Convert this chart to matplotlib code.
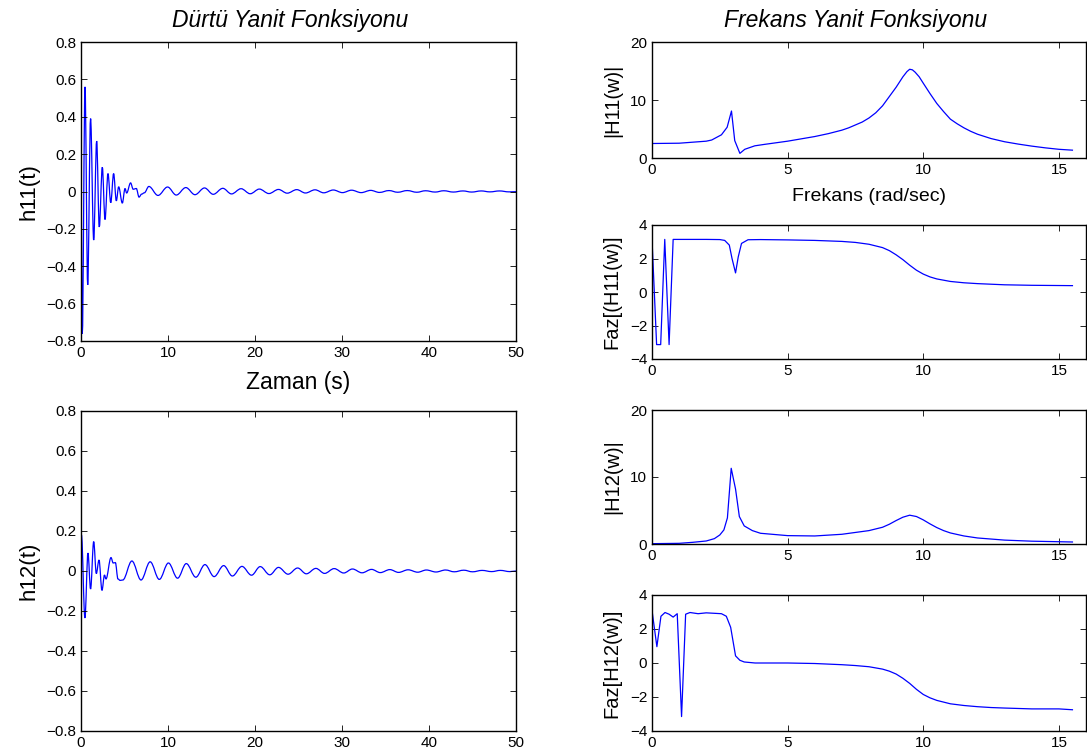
import matplotlib
matplotlib.use("Agg")
import matplotlib.pyplot as plt
from matplotlib.path import Path
from matplotlib.patches import PathPatch

plt.rcParams["font.family"] = ["Liberation Sans", "DejaVu Sans"]

# impulse response h11(t), values read at the extrema of the trace
t_h11 = [0.0, 0.15, 0.46, 0.77, 1.1, 1.46, 1.8, 2.1, 2.45, 2.76, 3.1, 3.42, 3.75,
         4.06, 4.33, 4.75, 5.06, 5.25, 5.7, 6.0, 6.36, 6.67, 6.97, 7.28, 7.8,
         8.85, 9.95, 10.95, 12.05, 13.1, 14.2, 15.2, 16.3, 17.3, 18.4, 19.45,
         20.5, 21.6, 22.7, 23.7, 24.8, 25.8, 26.9, 27.9, 29.0, 30.05, 31.1,
         32.2, 33.3, 34.3, 35.4, 36.4, 37.5, 38.6, 39.6, 40.7, 41.7, 42.8,
         43.9, 44.9, 46.0, 47.0, 48.1, 49.2, 50.0]
h11 = [0.0, -0.76, 0.56, -0.50, 0.39, -0.26, 0.27, -0.19, 0.13, -0.15, 0.096, -0.06, 0.096,
       -0.05, 0.025, -0.062, 0.016, -0.008, 0.046, 0.012, 0.016, -0.03, -0.014, -0.007, 0.027,
       -0.021, 0.024, -0.019, 0.021, -0.017, 0.019, -0.015, 0.017, -0.013, 0.015, -0.012,
       0.013, -0.011, 0.011, -0.009, 0.010, -0.008, 0.009, -0.007, 0.008, -0.006, 0.007,
       -0.006, 0.006, -0.005, 0.005, -0.004, 0.005, -0.004, 0.004, -0.003, 0.004, -0.003,
       0.003, -0.003, 0.003, -0.002, 0.003, -0.002, -0.001]

# impulse response h12(t)
t_h12 = [0.0, 0.05, 0.45, 0.8, 1.1, 1.46, 1.76, 2.07, 2.41, 2.7, 2.87, 3.45, 3.7, 3.95,
         4.25, 4.5, 4.8, 5.85, 6.9, 7.95, 9.0, 10.05, 11.1, 12.1, 13.2, 14.25, 15.3,
         16.4, 17.4, 18.5, 19.6, 20.6, 21.7, 22.7, 23.8, 24.9, 25.9, 27.0, 28.0, 29.1,
         30.2, 31.2, 32.3, 33.4, 34.4, 35.5, 36.5, 37.6, 38.7, 39.7, 40.8, 41.9, 42.9,
         44.0, 45.0, 46.1, 47.2, 48.2, 49.3, 50.0]
h12 = [0.17, 0.18, -0.235, 0.09, -0.09, 0.147, -0.013, 0.055, -0.097, -0.02, -0.04, 0.067, 0.04, 0.042,
       -0.04, -0.047, -0.045, 0.05, -0.045, 0.046, -0.042, 0.04, -0.036, 0.037, -0.031, 0.032, -0.028,
       0.027, -0.025, 0.023, -0.021, 0.022, -0.019, 0.018, -0.016, 0.015, -0.014, 0.013, -0.012, 0.012,
       -0.010, 0.010, -0.009, 0.008, -0.008, 0.007, -0.007, 0.006, -0.006, 0.005, -0.005, 0.005, -0.004,
       0.004, -0.004, 0.003, -0.003, 0.003, -0.003, 0.0]

# |H11(w)|
w_m11 = [0.0, 1.0, 2.0, 2.2, 2.56, 2.77, 2.93, 3.05, 3.24, 3.42, 3.79, 4.15, 5.0, 6.0,
         6.5, 7.0, 7.25, 7.5, 7.75, 8.0, 8.25, 8.5, 8.75, 9.0, 9.25, 9.4, 9.5, 9.6,
         9.7, 9.85, 10.0, 10.25, 10.5, 10.75, 11.0, 11.25, 11.5, 11.75, 12.0, 12.5,
         13.0, 13.5, 14.0, 14.5, 15.0, 15.5]
m11 = [2.5, 2.55, 2.9, 3.1, 4.0, 5.3, 8.1, 3.0, 0.8, 1.5, 2.1, 2.35, 2.9, 3.7,
       4.2, 4.8, 5.2, 5.7, 6.2, 6.9, 7.8, 9.0, 10.6, 12.2, 14.0, 14.9, 15.3, 15.2,
       14.8, 14.0, 12.9, 11.1, 9.4, 8.0, 6.7, 5.9, 5.2, 4.6, 4.1, 3.35,
       2.8, 2.4, 2.05, 1.75, 1.5, 1.35]

# Faz[H11(w)]
w_p11 = [0.0, 0.17, 0.32, 0.47, 0.63, 0.78, 1.5, 2.0, 2.5, 2.68, 2.85, 2.95, 3.08,
         3.18, 3.3, 3.54, 4.0, 5.0, 6.0, 7.0, 7.5, 8.0, 8.5, 8.75, 9.0, 9.25, 9.5,
         9.75, 10.0, 10.25, 10.5, 11.0, 11.5, 12.0, 13.0, 14.0, 15.5]
p11 = [3.14, -3.14, -3.14, 3.14, -3.14, 3.14, 3.14, 3.14, 3.13, 3.08, 2.8, 2.0, 1.14,
       2.1, 2.9, 3.12, 3.13, 3.11, 3.08, 3.02, 2.96, 2.85, 2.65, 2.47, 2.22, 1.93, 1.6,
       1.3, 1.07, 0.9, 0.78, 0.63, 0.55, 0.5, 0.43, 0.4, 0.38]

# |H12(w)|
w_m12 = [0.0, 1.0, 1.5, 2.0, 2.3, 2.5, 2.65, 2.78, 2.92, 3.08, 3.22, 3.4, 3.7, 4.0,
         5.0, 6.0, 7.0, 8.0, 8.5, 8.75, 9.0, 9.25, 9.5, 9.75, 10.0, 10.25, 10.5,
         10.75, 11.0, 11.5, 12.0, 13.0, 14.0, 15.5]
m12 = [0.05, 0.1, 0.25, 0.45, 0.8, 1.35, 2.1, 3.9, 11.3, 8.2, 4.1, 2.7, 2.0, 1.6,
       1.25, 1.2, 1.45, 2.0, 2.5, 2.95, 3.5, 4.0, 4.3, 4.1, 3.6, 3.0, 2.45,
       2.0, 1.65, 1.2, 0.9, 0.58, 0.42, 0.3]

# Faz[H12(w)]
w_p12 = [0.0, 0.18, 0.33, 0.48, 0.63, 0.78, 0.93, 1.09, 1.24, 1.4, 1.7, 2.0, 2.56,
         2.74, 2.9, 3.08, 3.24, 3.4, 3.8, 5.0, 6.0, 7.0, 7.5, 8.0, 8.5, 8.75, 9.0, 9.25,
         9.5, 9.75, 10.0, 10.25, 10.5, 11.0, 11.5, 12.0, 12.5, 13.0, 14.0, 15.0, 15.5]
p12 = [3.1, 0.96, 2.75, 2.97, 2.87, 2.7, 2.9, -3.15, 2.87, 2.97, 2.9, 2.95, 2.9,
       2.75, 2.1, 0.42, 0.16, 0.06, 0.0, 0.0, -0.03, -0.1, -0.15, -0.22, -0.36, -0.48, -0.65, -0.9,
       -1.2, -1.55, -1.85, -2.05, -2.2, -2.4, -2.5, -2.57, -2.62, -2.65, -2.7, -2.7, -2.75]

W, H = 1087, 756
fig = plt.figure(figsize=(W / 100, H / 100), dpi=100)
blue = "#0000ff"


def box(x0, y0, x1, y1):
    return fig.add_axes([x0 / W, 1 - y1 / H, (x1 - x0) / W, (y1 - y0) / H])


def style(ax):
    ax.tick_params(direction="in", top=True, right=True, labelsize=11, length=4, width=0.6)
    for s in ax.spines.values():
        s.set_linewidth(1.0)


def smooth_trace(ax, x, y):
    # cubic segments with flat ends at each read extremum (rounded peaks like the scope trace)
    verts = [(x[0], y[0])]
    codes = [Path.MOVETO]
    for i in range(1, len(x)):
        d = (x[i] - x[i - 1]) * 0.36
        verts += [(x[i - 1] + d, y[i - 1]), (x[i] - d, y[i]), (x[i], y[i])]
        codes += [Path.CURVE4] * 3
    ax.add_patch(PathPatch(Path(verts, codes), fill=False, edgecolor=blue, lw=0.9))


yt = [-0.8, -0.6, -0.4, -0.2, 0, 0.2, 0.4, 0.6, 0.8]
ytl = ["\u22120.8", "\u22120.6", "\u22120.4", "\u22120.2", "0", "0.2", "0.4", "0.6", "0.8"]

ax1 = box(81, 42, 516, 341)
smooth_trace(ax1, t_h11, h11)
ax1.set_xlim(0, 50)
ax1.set_ylim(-0.8, 0.8)
ax1.set_yticks(yt)
ax1.set_yticklabels(ytl)
ax1.set_ylabel("h11(t)", fontsize=16, labelpad=5)
ax1.set_xlabel("Zaman (s)", fontsize=16.5, labelpad=8)
ax1.set_title("D\u00fcrt\u00fc Yanit Fonksiyonu", fontsize=16.5, style="italic", pad=11, x=0.48)
style(ax1)

ax2 = box(81, 411, 516, 731)
smooth_trace(ax2, t_h12, h12)
ax2.set_xlim(0, 50)
ax2.set_ylim(-0.8, 0.8)
ax2.set_yticks(yt)
ax2.set_yticklabels(ytl)
ax2.set_ylabel("h12(t)", fontsize=16, labelpad=5)
style(ax2)

ax3 = box(652, 42, 1086, 158)
ax3.plot(w_m11, m11, color=blue, lw=0.9)
ax3.set_xlim(0, 16)
ax3.set_ylim(0, 20)
ax3.set_xticks([0, 5, 10, 15])
ax3.set_yticks([0, 10, 20])
ax3.set_ylabel("|H11(w)|", fontsize=14.5, labelpad=6)
ax3.set_xlabel("Frekans (rad/sec)", fontsize=14, labelpad=8)
ax3.set_title("Frekans Yanit Fonksiyonu", fontsize=16.5, style="italic", pad=11, x=0.47)
style(ax3)

ax4 = box(652, 225, 1086, 359)
ax4.plot(w_p11, p11, color=blue, lw=0.9)
ax4.set_xlim(0, 16)
ax4.set_ylim(-4, 4)
ax4.set_xticks([0, 5, 10, 15])
ax4.set_yticks([-4, -2, 0, 2, 4])
ax4.set_ylabel("Faz[(H11(w)]", fontsize=14.5, labelpad=6)
style(ax4)

ax5 = box(652, 410, 1086, 544)
ax5.plot(w_m12, m12, color=blue, lw=0.9)
ax5.set_xlim(0, 16)
ax5.set_ylim(0, 20)
ax5.set_xticks([0, 5, 10, 15])
ax5.set_yticks([0, 10, 20])
ax5.set_ylabel("|H12(w)|", fontsize=14.5, labelpad=6)
style(ax5)

ax6 = box(652, 595, 1086, 731)
ax6.plot(w_p12, p12, color=blue, lw=0.9)
ax6.set_xlim(0, 16)
ax6.set_ylim(-4, 4)
ax6.set_xticks([0, 5, 10, 15])
ax6.set_yticks([-4, -2, 0, 2, 4])
ax6.set_ylabel("Faz[H12(w)]", fontsize=14.5, labelpad=6)
style(ax6)

fig.savefig("out.png", dpi=100)
